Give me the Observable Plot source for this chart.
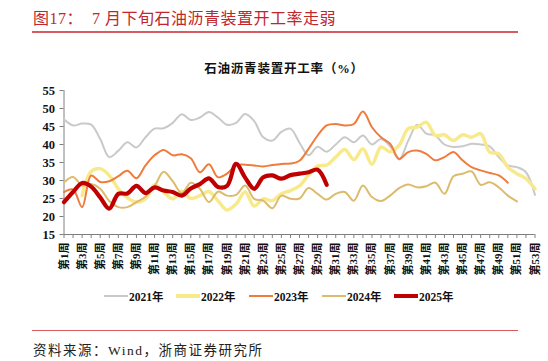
<!DOCTYPE html>
<html>
<head>
<meta charset="utf-8">
<script src="https://cdn.jsdelivr.net/npm/d3@7"></script>
<script src="https://cdn.jsdelivr.net/npm/@observablehq/plot@0.6"></script>
<style>
  html, body { margin: 0; padding: 0; background: #fff; }
  #wrap { position: relative; width: 548px; height: 361px; overflow: hidden; font-family: "Liberation Serif", "Noto Sans CJK SC", serif; }
  #title { position: absolute; left: 33px; top: 5px; font-size: 16px; letter-spacing: 0.5px; color: #c0262c; white-space: pre; font-family: "Liberation Serif", "Noto Sans CJK SC", serif; }
  .rule { position: absolute; left: 32px; width: 486px; height: 1.5px; background: #d65a5e; }
  #ctitle { position: absolute; left: 10px; width: 548px; top: 58px; text-align: center; font-size: 12.5px; letter-spacing: 0.8px; font-weight: bold; color: #111; }
  #source { position: absolute; left: 33px; top: 339px; font-size: 13.5px; letter-spacing: 1.5px; color: #222; white-space: pre; }
  .leg { position: absolute; top: 288px; font-size: 11.5px; font-weight: bold; color: #111; white-space: nowrap; }
  .sw { position: absolute; width: 24px; }
  #chart { position: absolute; left: 0; top: 0; }
  #chart svg text { font-family: "Liberation Serif", "Noto Sans CJK SC", serif; }
</style>
</head>
<body>
<div id="wrap">
  <div id="chart"></div>
  <div id="title">图17：  7 月下旬石油沥青装置开工率走弱</div>
  <div class="rule" style="top:31px"></div>
  <div id="ctitle">石油沥青装置开工率（%）</div>
  <div id="legend"></div>
  <div class="rule" style="top:329.5px"></div>
  <div id="source">资料来源：Wind，浙商证券研究所</div>
</div>
<script>
// ---- data ----
const weeks = d3.range(1, 54);
const yTicks = [15, 20, 25, 30, 35, 40, 45, 50, 55];
const weekLabels = weeks.filter(w => w % 2 === 1);
const seriesNames = ["2021年", "2022年", "2023年", "2024年", "2025年"];

const v2021 = [47, 45.3, 45.8, 45.5, 41.5, 36.5, 38.3, 40.6, 39.2, 42, 44.4, 44.5, 46, 48.4, 46.8, 47.5, 49, 47.5, 45.5, 46, 48.5, 46.5, 42, 41.1, 43.5, 44.4, 40.5, 37, 39.4, 38, 40, 42, 40.6, 42.5, 40, 41.5, 39.5, 35.8, 41, 45.5, 43, 42.5, 40, 39.3, 39.5, 40.2, 40, 39.5, 36.5, 34.2, 33.7, 32.3, 26];
const v2022 = [null, null, 25.8, 32.5, 33.3, 31.4, 27.7, 25.2, 24, 24.9, 28.8, 26.8, 24.9, 27, 25, 25.8, 26.9, 24.4, 21.8, 23.5, 26.8, 22.9, 24.9, 24.4, 26.3, 27.2, 28.5, 31.5, 34, 34.3, 36.5, 38.6, 35.8, 38.8, 34.5, 39.3, 38, 39.8, 44.4, 44.8, 46.2, 42.5, 42.7, 41.1, 42.7, 42, 43, 37.9, 37.4, 33.7, 31.9, 30.5, 27.7];
const v2023 = [26.8, 27.5, 22.6, 31.4, 29.6, 29.8, 31.2, 32.7, 30.6, 34.2, 37, 38.5, 37, 37.3, 36.2, 32.3, 34.5, 30.9, 31.9, 34.2, 34.4, 34.2, 33.9, 34.3, 34.6, 34.7, 35.5, 38.8, 42.5, 45.3, 45.7, 45.3, 45.7, 49.2, 44.8, 42, 40.2, 36, 37.9, 38.3, 37.4, 35.6, 36.5, 37.9, 35.6, 33.7, 32.8, 32.1, 31.4, 29.4];
const v2024 = [29.5, 31, 28.6, 29, 27.7, 24.3, 22.6, 22.6, 24, 25.5, 28.4, 32.4, 29.8, 26.5, 29.4, 27.7, 24, 26.9, 25.8, 26, 28.6, 24.9, 24.4, 22.3, 25.8, 24.9, 25, 27.9, 26.3, 24.7, 26.3, 26.8, 24.4, 28.6, 25.4, 24.3, 25.8, 27.9, 28.9, 28.1, 28.4, 29.4, 26.3, 31.2, 31.9, 32.5, 28.8, 29.5, 28.1, 25.8, 24.2];
const v2025 = [24, 26.8, 29.3, 28.3, 25.3, 22.2, 26.3, 26.4, 28.5, 26.5, 28.1, 27.2, 26.8, 25.8, 27.8, 29, 30.6, 28.2, 28.5, 34.6, 30.8, 27.7, 30.9, 31.4, 30.5, 31.5, 31.9, 32.3, 33, 28.8];

const colors = ["#c9c9c9", "#f8ea8c", "#ef7c3c", "#dcbb6c", "#c00000"];
const widths = [2, 3.5, 2, 2, 4.2];
const allValues = [v2021, v2022, v2023, v2024, v2025];

const rows = [];
allValues.forEach((vals, i) => {
  vals.forEach((v, j) => {
    if (v != null) rows.push({week: weeks[j], value: v, series: seriesNames[i]});
  });
});

const lineMarks = seriesNames.map((s, i) =>
  Plot.line(rows.filter(r => r.series === s), {
    x: "week", y: "value", stroke: colors[i], strokeWidth: widths[i],
    curve: "catmull-rom", strokeLinejoin: "round", strokeLinecap: "round"
  })
);

const chart = Plot.plot({
  width: 548,
  height: 361,
  marginLeft: 63.5,
  marginRight: 13.5,
  marginTop: 90,
  marginBottom: 127,
  style: {background: "transparent", color: "#111"},
  x: {domain: [1, 53]},
  y: {domain: [15, 55]},
  marks: [
    Plot.axisY({ticks: yTicks, tickSize: 4, tickPadding: 5, fontSize: 12.5, fontWeight: "bold", label: null, stroke: "#808080"}),
    Plot.axisX({ticks: weeks, tickSize: 4, tickFormat: () => "", label: null, stroke: "#808080"}),
    Plot.axisX({ticks: weekLabels, tickSize: 0, tickPadding: 8, tickRotate: -90, tickFormat: d => `第${d}周`, fontSize: 11, fontWeight: "bold", label: null}),
    Plot.ruleX([1], {stroke: "#808080"}),
    Plot.ruleY([15], {stroke: "#808080"}),
    ...lineMarks
  ]
});
document.getElementById("chart").appendChild(chart);

// ---- legend ----
const legX = [104, 176, 249, 322, 394];
const legend = document.getElementById("legend");
seriesNames.forEach((s, i) => {
  const sw = document.createElement("div");
  sw.className = "sw";
  sw.style.left = legX[i] + "px";
  sw.style.top = (296 - widths[i] / 2) + "px";
  sw.style.height = widths[i] + "px";
  sw.style.background = colors[i];
  legend.appendChild(sw);
  const t = document.createElement("div");
  t.className = "leg";
  t.style.left = (legX[i] + 25) + "px";
  t.textContent = s;
  legend.appendChild(t);
});
</script>
</body>
</html>
